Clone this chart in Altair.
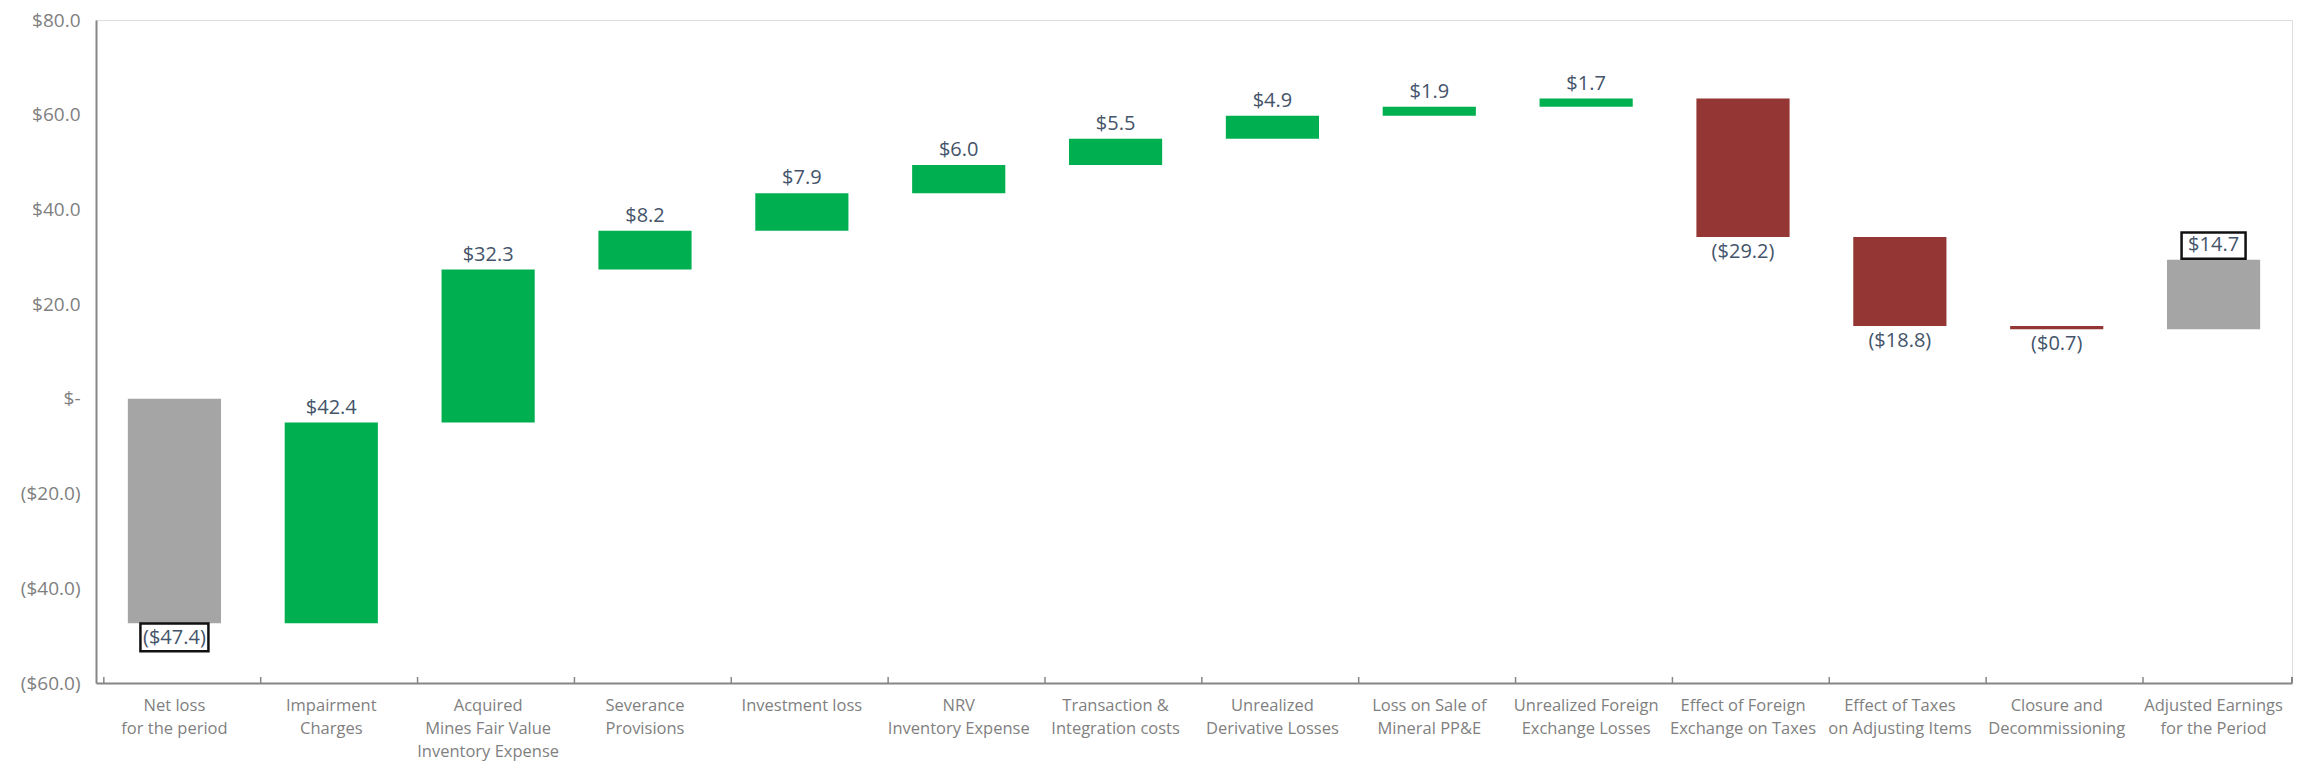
import altair as alt
import pandas as pd

categories = [
    "Net loss|for the period", "Impairment|Charges",
    "Acquired|Mines Fair Value|Inventory Expense", "Severance|Provisions",
    "Investment loss", "NRV|Inventory Expense", "Transaction &|Integration costs",
    "Unrealized|Derivative Losses", "Loss on Sale of|Mineral PP&E",
    "Unrealized Foreign|Exchange Losses", "Effect of Foreign|Exchange on Taxes",
    "Effect of Taxes|on Adjusting Items", "Closure and|Decommissioning",
    "Adjusted Earnings|for the Period",
]
values = [-47.4, 42.4, 32.3, 8.2, 7.9, 6.0, 5.5, 4.9, 1.9, 1.7, -29.2, -18.8, -0.7, 14.7]
kinds = ["total", "up", "up", "up", "up", "up", "up", "up", "up", "up", "down", "down", "down", "total"]
boxed = [True] + [False] * 12 + [True]

rows = []
running = 0.0
for c, v, k, b in zip(categories, values, kinds, boxed):
    start = running
    end = running + v
    running = end
    lab = ("$" + f"{v:.1f}") if v >= 0 else ("($" + f"{-v:.1f}" + ")")
    rows.append({"cat": c, "value": v, "kind": k, "start": start, "end": end,
                 "top": max(start, end), "bottom": min(start, end),
                 "label": lab, "boxed": b, "pos": v >= 0})
df = pd.DataFrame(rows)

W, H = 2196, 663
FONT = "Open Sans"
GREY_TXT = "#7F7F7F"
LBL = "#44546A"

xenc = alt.X("cat:N", sort=categories, title=None,
             axis=alt.Axis(labelAngle=0, ticks=False, labelExpr="split(datum.label, '|')",
                           labelFontSize=16.5, labelColor=GREY_TXT, labelLineHeight=23,
                           labelPadding=14, labelLimit=300, domainColor="#868686",
                           domainWidth=2, labelFont=FONT, labelBaseline="top"))
yscale = alt.Scale(domain=[-60, 80], nice=False, zero=False)

base = alt.Chart(df)

bars = base.mark_bar(width=alt.RelativeBandSize(0.66)).encode(
    x=xenc,
    y=alt.Y("start:Q", scale=yscale, title=None,
            axis=alt.Axis(values=[-60, -40, -20, 0, 20, 40, 60, 80], ticks=False, grid=False,
                          labelExpr="datum.value == 0 ? '$-' : (datum.value < 0 ? '($' + format(-datum.value, '.1f') + ')' : '$' + format(datum.value, '.1f'))",
                          labelFontSize=19, labelColor=GREY_TXT, labelPadding=16,
                          domainColor="#868686", domainWidth=2, labelFont=FONT)),
    y2="end:Q",
    color=alt.Color("kind:N", legend=None,
                    scale=alt.Scale(domain=["total", "up", "down"],
                                    range=["#A5A5A5", "#00B050", "#943634"])),
)

txt_up = base.transform_filter("datum.pos").mark_text(
    baseline="middle", dy=-15, fontSize=20, color=LBL, font=FONT
).encode(x=alt.X("cat:N", sort=categories), y=alt.Y("top:Q", scale=yscale), text="label:N")

txt_dn = base.transform_filter("!datum.pos").mark_text(
    baseline="middle", dy=15, fontSize=20, color=LBL, font=FONT
).encode(x=alt.X("cat:N", sort=categories), y=alt.Y("bottom:Q", scale=yscale), text="label:N")

BOX = "M-1,-0.41L1,-0.41L1,0.41L-1,0.41Z"
box_up = base.transform_filter("datum.pos && datum.boxed").mark_point(
    shape=BOX, size=64 * 64, filled=False, opacity=1,
    stroke="#111111", strokeWidth=2.5, yOffset=-14
).encode(x=alt.X("cat:N", sort=categories), y=alt.Y("top:Q", scale=yscale))

box_dn = base.transform_filter("!datum.pos && datum.boxed").mark_point(
    shape=BOX, size=68 * 68, filled=False, opacity=1,
    stroke="#111111", strokeWidth=2.5, yOffset=14
).encode(x=alt.X("cat:N", sort=categories), y=alt.Y("bottom:Q", scale=yscale))

ticks = base.mark_rule(color="#868686", strokeWidth=1.5).encode(
    x=alt.X("cat:N", sort=categories, bandPosition=0),
    y=alt.value(H), y2=alt.value(H - 6))
end_tick = base.mark_rule(color="#868686", strokeWidth=1.5).encode(
    x=alt.value(W), y=alt.value(H), y2=alt.value(H - 6))

chart = alt.layer(bars, ticks, end_tick, txt_up, txt_dn, box_up, box_dn).properties(
    width=W, height=H,
    autosize=alt.AutoSizeParams(type="none"),
    padding={"left": 88, "top": 12, "right": 3, "bottom": 83},
).configure_view(stroke=None).configure(background="white")

chart.save("out.html", embed_options={"renderer": "svg", "actions": False})
